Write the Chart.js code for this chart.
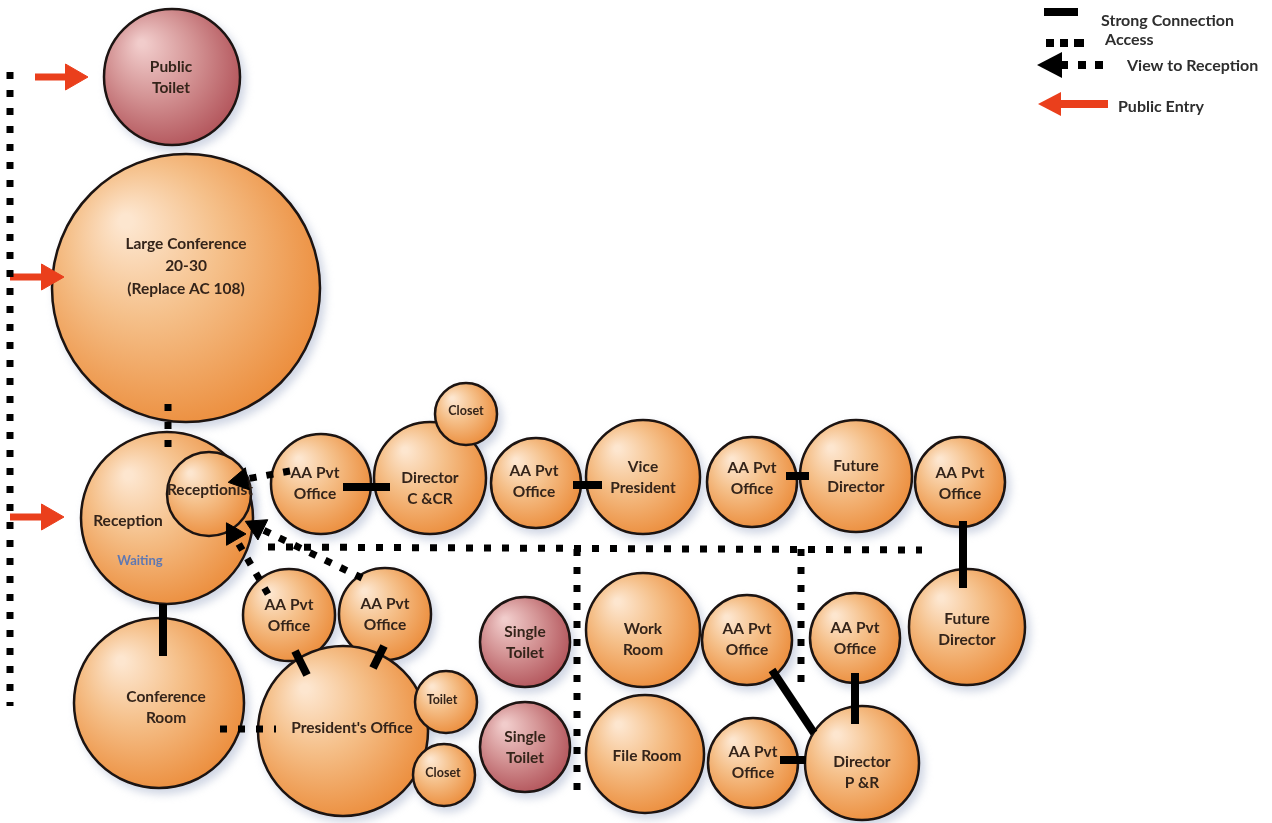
<!DOCTYPE html>
<html><head><meta charset="utf-8">
<script src="https://cdn.jsdelivr.net/npm/chart.js@4.4.1/dist/chart.umd.min.js"></script>
<style>html,body{margin:0;padding:0;background:#fff}#wrap{width:1272px;height:823px;position:relative}</style>
</head><body><div id="wrap"><canvas id="c"></canvas></div>
<script>
// ---- data ----
const roomNames = ['Public\nToilet','Large Conference\n20-30\n(Replace AC 108)','Reception','Receptionist',
  'AA Pvt\nOffice','Director\nC &CR','Closet','AA Pvt\nOffice','Vice\nPresident','AA Pvt\nOffice','Future\nDirector',
  'AA Pvt\nOffice','Future\nDirector','Conference\nRoom','AA Pvt\nOffice','AA Pvt\nOffice',"President's Office",
  'Toilet','Closet','Single\nToilet','Single\nToilet','Work\nRoom','File Room','AA Pvt\nOffice','AA Pvt\nOffice',
  'AA Pvt\nOffice','Director\nP &R'];
const roomX = [172,186,167,209,321,430,466,536,643,752,856,960,967,159,289,385,343,446,444,525,525,643,645,747,855,753,862];
const roomY = [77,288,518,494,484,478,414,483,477,482,476,482,627,703,615,614,731,702,775,642,747,630,754,640,638,763,763];
const roomSize = [68,134,86,42,50,56,31,45,57,45,56,45,58,85,46,46,85,31,31,45,45,57,59,45,45,45,57];
const roomKind = ['toilet','office','office','office','office','office','office','office','office','office','office',
  'office','office','office','office','office','office','office','office','toilet','toilet','office','office','office','office','office','office'];
const strongLinks = [[163,604,163,656],[343,487,390,487],[573,485,602,485],[786,476,809,476],[963,521,963,588],
  [295,651,307,675],[384,646,373,668],[772,670,814,733],[855,673,855,724],[780,760,806,760]];
const accessLinks = [[10,72,10,706],[168,404,168,452],[220,729,276,729],[268,547,922,550],[577,549,577,790],[801,549,801,688]];
const viewLinks = [[290,471,241,480],[268,594,233,534],[362,578,257,527]];
const entryArrows = [[35,77,73,77],[10,277,49,277],[10,517,49,517]];
const legendLabels = ['Strong Connection','Access','View to Reception','Public Entry'];
const subLabel = 'Waiting';

// ---- styling ----
const labelOffset = {0:[-1,0],1:[0,-22],2:[-39,3],3:[1,-4],4:[-6,-1],5:[0,10],6:[0,-3],7:[-2,-2],9:[0,-4],11:[0,1],12:[0,2],
  13:[7,4],16:[9,-3],17:[-4,-2],18:[-1,-2],21:[0,9],22:[2,2],23:[0,-1],25:[0,-1],26:[0,9]};
const smallIdx = new Set([6,17,18]);
const TXT = '#34241a';
const FONT = 'Lato, "Open Sans", sans-serif';

function grad(chart, i) {
  const cx = chart.scales.x.getPixelForValue(roomX[i]);
  const cy = chart.scales.y.getPixelForValue(roomY[i]);
  const r = roomSize[i];
  const g = chart.ctx.createRadialGradient(cx - r*0.45, cy - r*0.5, r*0.05, cx - r*0.15, cy - r*0.15, r*1.2);
  if (roomKind[i] === 'toilet') {
    g.addColorStop(0, '#f1cccb'); g.addColorStop(0.5, '#d49495'); g.addColorStop(1, '#b4575d');
  } else {
    g.addColorStop(0, '#fde6cf'); g.addColorStop(0.45, '#f5c08a'); g.addColorStop(1, '#ec8f3f');
  }
  return g;
}

const datasets = [];
datasets.push({
  type: 'bubble', label: 'rooms', order: 5, clip: false,
  data: roomX.map((x, i) => ({x, y: roomY[i], r: roomSize[i]})),
  backgroundColor: (ctx) => (ctx.type === 'data' && ctx.chart.chartArea) ? grad(ctx.chart, ctx.dataIndex) : '#f2b070',
  borderColor: '#1c1412', borderWidth: 2.5
});
function lineSet(seg, color, width, dash, head) {
  const rot = Math.atan2(seg[3]-seg[1], seg[2]-seg[0]) * 180 / Math.PI + 90;
  return {
    type: 'line', order: 1, clip: false, showLine: true, fill: false, tension: 0,
    data: [{x: seg[0], y: seg[1]}, {x: seg[2], y: seg[3]}],
    borderColor: color, borderWidth: width, borderDash: dash, borderCapStyle: 'butt',
    pointRadius: [0, head], pointStyle: 'triangle', pointRotation: [0, rot],
    pointBackgroundColor: color, pointBorderColor: color, pointBorderWidth: 1
  };
}
strongLinks.forEach(s => datasets.push(lineSet(s, '#000', 8, [], 0)));
accessLinks.forEach(s => datasets.push(lineSet(s, '#000', 7, [7, 11], 0)));
viewLinks.forEach(s => datasets.push(lineSet(s, '#000', 7, [7, 10], 13)));
entryArrows.forEach(s => datasets.push(lineSet(s, '#ea3f1c', 7, [], 15)));

const shadowPlugin = {
  id: 'shadows',
  beforeDatasetsDraw(chart) {
    const ctx = chart.ctx;
    const meta = chart.getDatasetMeta(0);
    ctx.save();
    ctx.filter = 'blur(4px)';
    ctx.fillStyle = 'rgba(150,165,195,0.45)';
    meta.data.forEach(el => {
      ctx.beginPath();
      ctx.arc(el.x + 4, el.y + 5, el.options.radius + 1.5, 0, Math.PI*2);
      ctx.fill();
    });
    ctx.restore();
  }
};
const labelPlugin = {
  id: 'labels',
  afterDatasetDraw(chart, args) {
    if (args.index !== 0) return;
    const ctx = chart.ctx;
    const meta = chart.getDatasetMeta(0);
    ctx.save();
    ctx.textAlign = 'center'; ctx.textBaseline = 'middle';
    meta.data.forEach((el, i) => {
      const off = labelOffset[i] || [0, 0];
      const small = smallIdx.has(i);
      ctx.font = (small ? 'bold 12.5px ' : 'bold 15.5px ') + FONT;
      ctx.fillStyle = TXT;
      const lines = roomNames[i].split('\n');
      const lh = small ? 14 : (i === 1 ? 22.5 : 21);
      lines.forEach((t, k) => {
        ctx.fillText(t, el.x + off[0], el.y + off[1] + (k - (lines.length-1)/2) * lh);
      });
      if (i === 2) {
        ctx.font = 'bold 13px ' + FONT;
        ctx.fillStyle = '#5f78b2';
        ctx.fillText(subLabel, el.x - 27, el.y + 43);
      }
    });
    ctx.restore();
  },
  afterDatasetsDraw(chart) {
    const ctx = chart.ctx;
    ctx.save();
    ctx.fillStyle = '#000';
    ctx.fillRect(1044, 8, 34, 8);
    [1046, 1060, 1074].forEach(x => ctx.fillRect(x, 39, 8, 8));
    ctx.fillRect(1082, 39, 2, 8);
    ctx.beginPath(); ctx.moveTo(1037, 65); ctx.lineTo(1062, 52); ctx.lineTo(1062, 78); ctx.closePath(); ctx.fill();
    ctx.fillRect(1062, 61, 6, 8);
    [1078, 1095].forEach(x => ctx.fillRect(x, 61, 8, 8));
    ctx.fillStyle = '#ea3f1c';
    ctx.beginPath(); ctx.moveTo(1038, 104); ctx.lineTo(1061, 92); ctx.lineTo(1061, 116); ctx.closePath(); ctx.fill();
    ctx.fillRect(1060, 100, 48, 8);
    ctx.fillStyle = '#2e2e2e';
    ctx.textAlign = 'left'; ctx.textBaseline = 'middle';
    ctx.font = 'bold 16px ' + FONT;
    ctx.fillText(legendLabels[0], 1101, 21);
    ctx.fillText(legendLabels[1], 1105, 40);
    ctx.fillText(legendLabels[2], 1127, 66);
    ctx.fillText(legendLabels[3], 1118, 107);
    ctx.restore();
  }
};

new Chart(document.getElementById('c'), {
  type: 'bubble',
  data: { datasets },
  options: {
    responsive: true, maintainAspectRatio: false, animation: false, events: [],
    layout: { padding: 0, autoPadding: false },
    plugins: { legend: { display: false }, tooltip: { enabled: false } },
    scales: {
      x: { type: 'linear', min: 0, max: 1272, display: false },
      y: { type: 'linear', min: 0, max: 823, reverse: true, display: false }
    }
  },
  plugins: [shadowPlugin, labelPlugin]
});
</script></body></html>
